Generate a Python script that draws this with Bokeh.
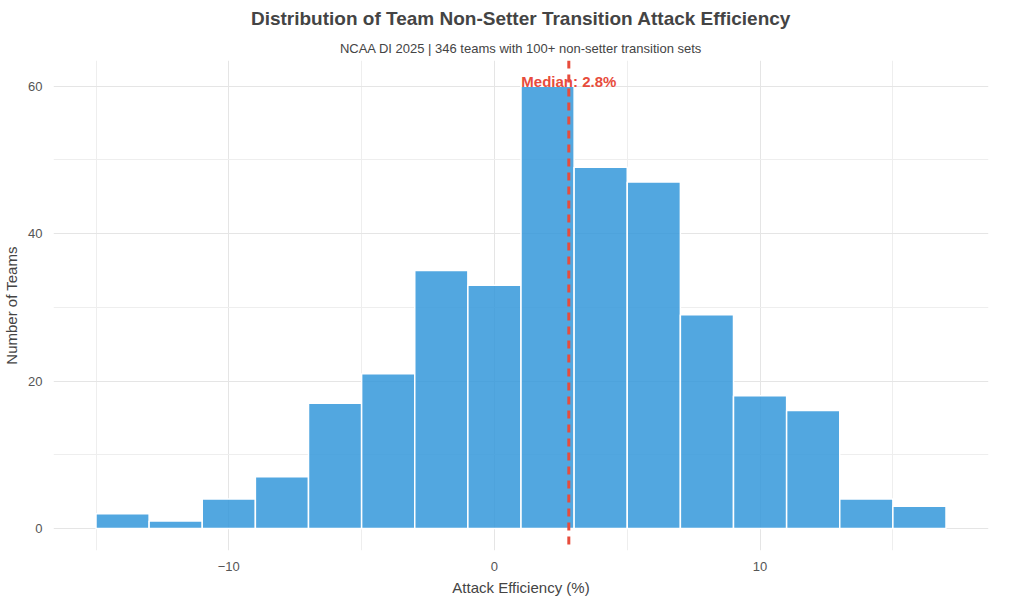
from bokeh.plotting import figure
from bokeh.models import Title, Span, Label, FixedTicker
from bokeh.embed import file_html
from bokeh.resources import INLINE

edges = [-15, -13, -11, -9, -7, -5, -3, -1, 1, 3, 5, 7, 9, 11, 13, 15, 17]
counts = [2, 1, 4, 7, 17, 21, 35, 33, 60, 49, 47, 29, 18, 16, 4, 3]
median = 2.8
title = "Distribution of Team Non-Setter Transition Attack Efficiency"
subtitle = "NCAA DI 2025 | 346 teams with 100+ non-setter transition sets"

p = figure(width=1008, height=598, output_backend="svg", toolbar_location=None,
           x_range=(-16.6, 18.6), y_range=(-3, 63.5), min_border_left=50, min_border_right=20)
p.add_layout(Title(text=subtitle, align="center", text_font_size="13px",
                   text_font_style="normal", text_font="Liberation Sans"), "above")
p.add_layout(Title(text=title, align="center", text_font_size="19px",
                   text_font_style="bold", text_font="Liberation Sans"), "above")

p.quad(left=edges[:-1], right=edges[1:], bottom=0, top=counts,
       fill_color="#3498db", fill_alpha=0.85, line_color="white", line_width=1.5)
p.add_layout(Span(location=median, dimension="height", line_color="#e74c3c",
                  line_dash="8 6", line_width=3))
p.add_layout(Label(x=median, y=59.5, text=f"Median: {median}%", text_align="center",
                   text_color="#e74c3c", text_font_style="bold", text_font_size="15px",
                   text_font="Liberation Sans"))

p.outline_line_color = None
p.xaxis.axis_label = "Attack Efficiency (%)"
p.yaxis.axis_label = "Number of Teams"
for ax in (p.xaxis, p.yaxis):
    ax.axis_line_color = None
    ax.major_tick_line_color = None
    ax.minor_tick_line_color = None
    ax.major_label_text_font_size = "13px"
    ax.major_label_text_color = "#555555"
    ax.axis_label_text_font_size = "15px"
    ax.axis_label_text_font_style = "normal"
    ax.axis_label_text_font = "Liberation Sans"
    ax.major_label_text_font = "Liberation Sans"
p.xaxis.ticker = FixedTicker(ticks=[-10, 0, 10], minor_ticks=[-15, -5, 5, 15])
p.yaxis.ticker = FixedTicker(ticks=[0, 20, 40, 60], minor_ticks=[10, 30, 50])
p.xgrid.minor_grid_line_color = "#eeeeee"
p.ygrid.minor_grid_line_color = "#eeeeee"
p.xgrid.grid_line_color = "#e5e5e5"
p.ygrid.grid_line_color = "#e5e5e5"

open("out.html", "w").write(file_html(p, INLINE))
